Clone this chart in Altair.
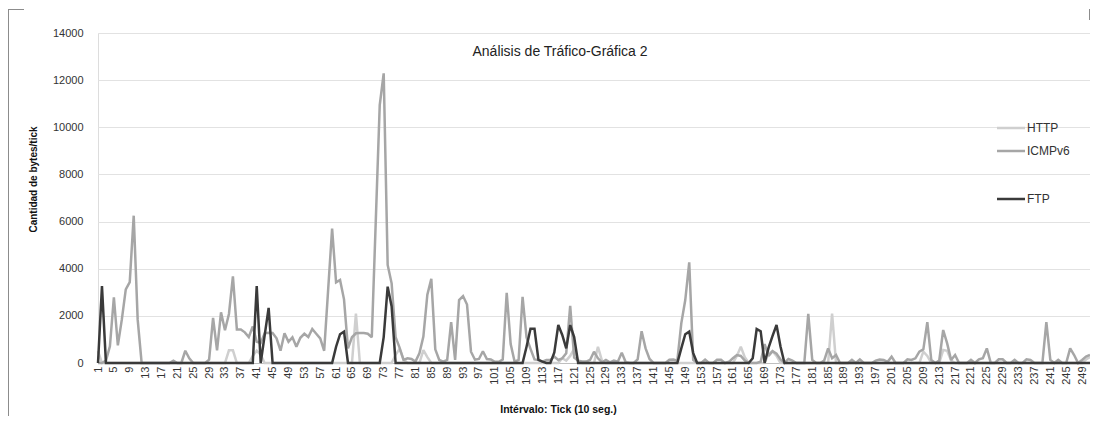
import altair as alt
import pandas as pd

# ---------------- data ----------------
ticks = list(range(1, 252))

http = [
    500, 0, 0, 0, 0, 0, 0, 0, 0, 0,
    0, 0, 0, 0, 0, 0, 0, 0, 0, 0,
    0, 0, 0, 0, 0, 0, 0, 0, 0, 0,
    0, 0, 0, 540, 540, 0, 0, 0, 0, 300,
    520, 350, 0, 0, 0, 0, 0, 0, 0, 0,
    0, 0, 0, 0, 0, 0, 0, 0, 0, 0,
    0, 0, 0, 0, 0, 2100, 0, 0, 0, 0,
    0, 0, 0, 0, 0, 350, 600, 150, 0, 0,
    0, 0, 550, 250, 0, 0, 0, 0, 0, 0,
    0, 0, 0, 0, 0, 0, 0, 0, 0, 0,
    0, 0, 0, 0, 0, 0, 0, 0, 0, 0,
    0, 0, 0, 0, 0, 0, 0, 200, 100, 300,
    600, 100, 0, 0, 0, 0, 690, 100, 0, 0,
    0, 0, 0, 0, 0, 0, 0, 0, 0, 0,
    0, 0, 0, 0, 0, 0, 0, 0, 0, 0,
    0, 0, 0, 0, 0, 0, 0, 0, 0, 0,
    0, 300, 690, 250, 0, 0, 0, 0, 0, 400,
    500, 300, 0, 0, 0, 0, 0, 0, 0, 0,
    0, 0, 0, 0, 0, 2100, 0, 0, 0, 0,
    0, 0, 0, 0, 0, 0, 0, 0, 0, 0,
    0, 0, 0, 0, 0, 0, 0, 0, 480, 300,
    0, 0, 0, 550, 520, 100, 0, 0, 0, 0,
    0, 0, 0, 0, 0, 0, 0, 0, 0, 0,
    0, 0, 0, 0, 0, 0, 0, 0, 0, 0,
    0, 0, 0, 0, 0, 0, 0, 0, 0, 150,
    250,
]

icmpv6 = [
    0, 0, 100, 710, 2790, 750, 1840, 3120, 3430, 6250,
    1840, 0, 0, 0, 0, 0, 0, 0, 0, 100,
    0, 0, 520, 200, 0, 0, 0, 0, 140, 1910,
    540, 2150, 1390, 2080, 3680, 1420, 1420, 1300, 1100, 1550,
    900, 850, 1260, 1280, 1270, 1050, 520, 1260, 900, 1090,
    690, 1070, 1240, 1100, 1440, 1240, 1040, 520, 3100, 5700,
    3420, 3520, 2700, 620, 1090, 1260, 1270, 1270, 1240, 1090,
    6000, 10940, 12290, 4160, 3380, 1100, 650, 130, 200, 170,
    60, 410, 1120, 2900, 3570, 580, 130, 60, 130, 1730,
    130, 2670, 2840, 2480, 480, 140, 170, 500, 170, 150,
    50, 50, 150, 2980, 800, 55, 130, 2810, 1080, 600,
    150, 130, 60, 130, 130, 270, 130, 200, 410, 2420,
    230, 100, 60, 60, 130, 480, 200, 30, 130, 30,
    100, 50, 440, 30, 0, 0, 150, 1350, 620, 170,
    0, 0, 0, 0, 140, 150, 100, 1680, 2670, 4270,
    130, 0, 0, 140, 0, 0, 140, 140, 0, 50,
    200, 340, 300, 100, 0, 0, 0, 50, 800, 300,
    500, 400, 150, 0, 170, 100, 0, 0, 0, 2090,
    130, 0, 0, 100, 620, 200, 340, 0, 0, 0,
    130, 0, 150, 0, 0, 0, 100, 150, 130, 50,
    270, 0, 0, 0, 155, 130, 200, 480, 580, 1730,
    130, 0, 100, 1400, 830, 130, 340, 0, 0, 0,
    130, 0, 155, 200, 620, 0, 0, 155, 155, 0,
    0, 130, 0, 0, 155, 130, 0, 0, 0, 1730,
    130, 0, 130, 0, 0, 620, 340, 0, 130, 270,
    340,
]

ftp = [
    0, 3260, 0, 0, 0, 0, 0, 0, 0, 0,
    0, 0, 0, 0, 0, 0, 0, 0, 0, 0,
    0, 0, 0, 0, 0, 0, 0, 0, 0, 0,
    0, 0, 0, 0, 0, 0, 0, 0, 0, 0,
    3260, 0, 1170, 2340, 0, 0, 0, 0, 0, 0,
    0, 0, 0, 0, 0, 0, 0, 0, 0, 0,
    690, 1220, 1330, 0, 0, 0, 0, 0, 0, 0,
    0, 0, 1100, 3240, 2400, 0, 0, 0, 0, 0,
    0, 0, 0, 0, 0, 0, 0, 0, 0, 0,
    0, 0, 0, 0, 0, 0, 0, 0, 0, 0,
    0, 0, 0, 0, 0, 0, 0, 0, 690, 1450,
    1450, 130, 60, 0, 0, 450, 1610, 1190, 620, 1610,
    1100, 0, 0, 0, 0, 0, 0, 0, 0, 0,
    0, 0, 0, 0, 0, 0, 0, 0, 0, 0,
    0, 0, 0, 0, 0, 0, 0, 620, 1220, 1330,
    420, 0, 0, 0, 0, 0, 0, 0, 0, 0,
    0, 0, 0, 0, 0, 200, 1440, 1350, 0, 650,
    1150, 1610, 700, 0, 0, 0, 0, 0, 0, 0,
    0, 0, 0, 0, 0, 0, 0, 0, 0, 0,
    0, 0, 0, 0, 0, 0, 0, 0, 0, 0,
    0, 0, 0, 0, 0, 0, 0, 0, 0, 0,
    0, 0, 0, 0, 0, 0, 0, 0, 0, 0,
    0, 0, 0, 0, 0, 0, 0, 0, 0, 0,
    0, 0, 0, 0, 0, 0, 0, 0, 0, 0,
    0, 0, 0, 0, 0, 0, 0, 0, 0, 0,
    0,
]

series_names = ["HTTP", "ICMPv6", "FTP"]
y_tick_values = [0, 2000, 4000, 6000, 8000, 10000, 12000, 14000]
x_tick_values = list(range(1, 250, 4))
chart_title = "Análisis de Tráfico-Gráfica 2"
x_title = "Intérvalo: Tick (10 seg.)"
y_title = "Cantidad de  bytes/tick"

# ---------------- styling ----------------
FONT = "Liberation Sans"
colors = {"HTTP": "#cfcfcf", "ICMPv6": "#a6a6a6", "FTP": "#3a3a3a"}
legend_y = {"HTTP": 95, "ICMPv6": 118, "FTP": 166}
LW = 2.5
W, H = 992, 330

df = pd.DataFrame({"tick": ticks, "HTTP": http, "ICMPv6": icmpv6, "FTP": ftp})
long = df.melt("tick", var_name="serie", value_name="bytes")

x_enc = alt.X(
    "tick:Q",
    scale=alt.Scale(domain=[1, 251], nice=False, zero=False),
    axis=alt.Axis(
        values=x_tick_values, labelAngle=-90, labelFontSize=11, labelFont=FONT,
        labelColor="#333333", ticks=False, labelPadding=3, grid=False,
        domainColor="#bfbfbf", labelOverlap=False, labelFlush=False, format="d",
        title=x_title, titleFont=FONT, titleFontSize=10.5, titleFontWeight="bold",
        titleColor="#111111", titleX=460, titleY=46, titleBaseline="middle",
        titleAnchor="middle", titleAlign="center",
    ),
)
y_enc = alt.Y(
    "bytes:Q",
    scale=alt.Scale(domain=[0, 14000], nice=False),
    axis=alt.Axis(
        values=y_tick_values, format="d", labelFontSize=11, labelFont=FONT,
        labelColor="#333333", ticks=False, labelPadding=15, domain=False, grid=True,
        gridColor="#e2e2e2", gridWidth=1, title=y_title, titleFont=FONT,
        titleFontSize=10, titleFontWeight="bold", titleColor="#111111",
        titleX=-65, titleY=146, titleAngle=-90, titleBaseline="middle",
        titleAlign="center",
    ),
)

base = alt.Chart(long)
layers = []
for name in series_names:
    layers.append(
        base.transform_filter(alt.datum.serie == name)
        .mark_line(color=colors[name], strokeWidth=LW, strokeJoin="miter", strokeMiterLimit=2)
        .encode(x=x_enc, y=y_enc)
    )

# legend drawn manually (Excel style, inside plot area)
for name in series_names:
    ldf = pd.DataFrame({"serie": [name]})
    layers.append(
        alt.Chart(ldf).mark_rule(color=colors[name], strokeWidth=LW).encode(
            x=alt.value(899), x2=alt.value(927), y=alt.value(legend_y[name])
        )
    )
    layers.append(
        alt.Chart(ldf).mark_text(align="left", baseline="middle", font=FONT,
                                 fontSize=12, color="#333333").encode(
            x=alt.value(929), y=alt.value(legend_y[name]), text="serie:N"
        )
    )

# chart title inside plot
tdf = pd.DataFrame({"t": [chart_title]})
layers.append(
    alt.Chart(tdf).mark_text(align="center", baseline="middle", font=FONT,
                             fontSize=14, color="#222222").encode(
        x=alt.value(462), y=alt.value(19), text="t:N"
    )
)

# partial chart-area frame
fdf = pd.DataFrame({"f": [0]})
frame_color = "#8c8c8c"
layers.append(alt.Chart(fdf).mark_rule(color=frame_color, strokeWidth=1).encode(
    x=alt.value(-89.5), y=alt.value(-24), y2=alt.value(383)))
layers.append(alt.Chart(fdf).mark_rule(color=frame_color, strokeWidth=1).encode(
    x=alt.value(-90), x2=alt.value(-74), y=alt.value(-23.5)))
layers.append(alt.Chart(fdf).mark_rule(color=frame_color, strokeWidth=1).encode(
    x=alt.value(991.5), y=alt.value(-24), y2=alt.value(-13)))

chart = alt.layer(*layers).properties(
    width=W, height=H,
    autosize=alt.AutoSizeParams(type="none"),
    padding={"left": 90, "top": 25, "right": 0, "bottom": 53},
).configure_view(stroke=None).configure(background="white")

chart.save("out.html", embed_options={"renderer": "svg", "actions": False})
